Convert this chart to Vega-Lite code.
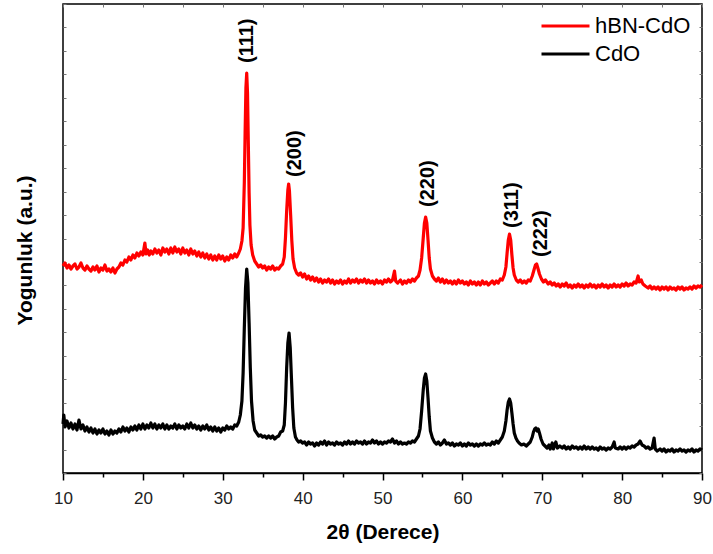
{
  "$schema": "https://vega.github.io/schema/vega-lite/v6.json",
  "width": 639,
  "height": 469,
  "autosize": {"type": "none"},
  "padding": {"left": 63, "top": 4, "right": 11, "bottom": 81},
  "background": "white",
  "config": {
    "view": {"stroke": "black", "strokeWidth": 1.5},
    "font": "Liberation Sans"
  },
  "datasets": {
    "hbn": [
{"theta":10.0,"counts":207},{"theta":10.25,"counts":210},{"theta":10.5,"counts":205},{"theta":10.75,"counts":208},{"theta":11.0,"counts":204},{"theta":11.25,"counts":207},{"theta":11.5,"counts":209},{"theta":11.75,"counts":204},{"theta":12.0,"counts":206},{"theta":12.25,"counts":210},{"theta":12.5,"counts":205},{"theta":12.75,"counts":203},{"theta":13.0,"counts":207},{"theta":13.25,"counts":204},{"theta":13.5,"counts":202},{"theta":13.75,"counts":206},{"theta":14.0,"counts":203},{"theta":14.25,"counts":207},{"theta":14.5,"counts":201},{"theta":14.75,"counts":205},{"theta":15.0,"counts":203},{"theta":15.25,"counts":208},{"theta":15.5,"counts":202},{"theta":15.75,"counts":204},{"theta":16.0,"counts":201},{"theta":16.25,"counts":205},{"theta":16.5,"counts":200},{"theta":16.75,"counts":204},{"theta":17.0,"counts":206},{"theta":17.25,"counts":210},{"theta":17.5,"counts":208},{"theta":17.75,"counts":213},{"theta":18.0,"counts":211},{"theta":18.25,"counts":216},{"theta":18.5,"counts":213},{"theta":18.75,"counts":218},{"theta":19.0,"counts":215},{"theta":19.25,"counts":220},{"theta":19.5,"counts":217},{"theta":19.75,"counts":221},{"theta":20.0,"counts":218},{"theta":20.25,"counts":230},{"theta":20.4,"counts":219},{"theta":20.6,"counts":223},{"theta":20.8,"counts":218},{"theta":21.0,"counts":222},{"theta":21.25,"counts":219},{"theta":21.5,"counts":224},{"theta":21.75,"counts":220},{"theta":22.0,"counts":223},{"theta":22.25,"counts":218},{"theta":22.5,"counts":225},{"theta":22.75,"counts":221},{"theta":23.0,"counts":224},{"theta":23.25,"counts":219},{"theta":23.5,"counts":225},{"theta":23.75,"counts":220},{"theta":24.0,"counts":226},{"theta":24.25,"counts":221},{"theta":24.5,"counts":224},{"theta":24.75,"counts":219},{"theta":25.0,"counts":225},{"theta":25.25,"counts":220},{"theta":25.5,"counts":223},{"theta":25.75,"counts":218},{"theta":26.0,"counts":224},{"theta":26.25,"counts":219},{"theta":26.5,"counts":222},{"theta":26.75,"counts":217},{"theta":27.0,"counts":221},{"theta":27.25,"counts":216},{"theta":27.5,"counts":220},{"theta":27.75,"counts":215},{"theta":28.0,"counts":219},{"theta":28.25,"counts":214},{"theta":28.5,"counts":218},{"theta":28.75,"counts":213},{"theta":29.0,"counts":217},{"theta":29.25,"counts":213},{"theta":29.5,"counts":218},{"theta":29.75,"counts":214},{"theta":30.0,"counts":217},{"theta":30.25,"counts":212},{"theta":30.5,"counts":216},{"theta":30.75,"counts":213},{"theta":31.0,"counts":218},{"theta":31.25,"counts":215},{"theta":31.5,"counts":219},{"theta":31.75,"counts":216},{"theta":32.0,"counts":220},{"theta":32.2,"counts":224},{"theta":32.4,"counts":232},{"theta":32.55,"counts":245},{"theta":32.7,"counts":290},{"theta":32.8,"counts":340},{"theta":32.9,"counts":385},{"theta":33.0,"counts":400},{"theta":33.1,"counts":380},{"theta":33.2,"counts":330},{"theta":33.3,"counts":280},{"theta":33.4,"counts":248},{"theta":33.55,"counts":228},{"theta":33.75,"counts":218},{"theta":34.0,"counts":212},{"theta":34.25,"counts":209},{"theta":34.5,"counts":206},{"theta":34.75,"counts":208},{"theta":35.0,"counts":205},{"theta":35.25,"counts":207},{"theta":35.5,"counts":203},{"theta":35.75,"counts":206},{"theta":36.0,"counts":204},{"theta":36.25,"counts":207},{"theta":36.5,"counts":203},{"theta":36.75,"counts":205},{"theta":37.0,"counts":204},{"theta":37.25,"counts":207},{"theta":37.5,"counts":209},{"theta":37.7,"counts":216},{"theta":37.85,"counts":235},{"theta":38.0,"counts":262},{"theta":38.15,"counts":283},{"theta":38.25,"counts":289},{"theta":38.35,"counts":282},{"theta":38.5,"counts":258},{"theta":38.65,"counts":232},{"theta":38.8,"counts":214},{"theta":39.0,"counts":205},{"theta":39.25,"counts":200},{"theta":39.5,"counts":198},{"theta":39.75,"counts":200},{"theta":40.0,"counts":196},{"theta":40.25,"counts":199},{"theta":40.5,"counts":194},{"theta":40.75,"counts":197},{"theta":41.0,"counts":193},{"theta":41.25,"counts":196},{"theta":41.5,"counts":192},{"theta":41.75,"counts":195},{"theta":42.0,"counts":191},{"theta":42.25,"counts":194},{"theta":42.5,"counts":190},{"theta":42.75,"counts":193},{"theta":43.0,"counts":191},{"theta":43.25,"counts":194},{"theta":43.5,"counts":190},{"theta":43.75,"counts":193},{"theta":44.0,"counts":189},{"theta":44.25,"counts":192},{"theta":44.5,"counts":190},{"theta":44.75,"counts":193},{"theta":45.0,"counts":189},{"theta":45.25,"counts":192},{"theta":45.5,"counts":190},{"theta":45.75,"counts":194},{"theta":46.0,"counts":190},{"theta":46.25,"counts":193},{"theta":46.5,"counts":191},{"theta":46.75,"counts":194},{"theta":47.0,"counts":190},{"theta":47.25,"counts":193},{"theta":47.5,"counts":191},{"theta":47.75,"counts":194},{"theta":48.0,"counts":190},{"theta":48.25,"counts":193},{"theta":48.5,"counts":190},{"theta":48.75,"counts":192},{"theta":49.0,"counts":189},{"theta":49.25,"counts":193},{"theta":49.5,"counts":190},{"theta":49.75,"counts":192},{"theta":50.0,"counts":189},{"theta":50.25,"counts":193},{"theta":50.5,"counts":191},{"theta":50.75,"counts":194},{"theta":51.0,"counts":191},{"theta":51.25,"counts":193},{"theta":51.5,"counts":202},{"theta":51.65,"counts":192},{"theta":51.9,"counts":190},{"theta":52.25,"counts":193},{"theta":52.5,"counts":189},{"theta":52.75,"counts":192},{"theta":53.0,"counts":190},{"theta":53.25,"counts":193},{"theta":53.5,"counts":191},{"theta":53.75,"counts":194},{"theta":54.0,"counts":192},{"theta":54.25,"counts":195},{"theta":54.5,"counts":197},{"theta":54.7,"counts":203},{"theta":54.9,"counts":215},{"theta":55.1,"counts":235},{"theta":55.25,"counts":250},{"theta":55.4,"counts":256},{"theta":55.55,"counts":250},{"theta":55.7,"counts":233},{"theta":55.85,"counts":215},{"theta":56.0,"counts":204},{"theta":56.25,"counts":197},{"theta":56.5,"counts":194},{"theta":56.75,"counts":192},{"theta":57.0,"counts":195},{"theta":57.25,"counts":191},{"theta":57.5,"counts":194},{"theta":57.75,"counts":190},{"theta":58.0,"counts":193},{"theta":58.25,"counts":190},{"theta":58.5,"counts":192},{"theta":58.75,"counts":189},{"theta":59.0,"counts":192},{"theta":59.25,"counts":189},{"theta":59.5,"counts":193},{"theta":59.75,"counts":190},{"theta":60.0,"counts":192},{"theta":60.25,"counts":189},{"theta":60.5,"counts":191},{"theta":60.75,"counts":188},{"theta":61.0,"counts":192},{"theta":61.25,"counts":189},{"theta":61.5,"counts":191},{"theta":61.75,"counts":188},{"theta":62.0,"counts":191},{"theta":62.25,"counts":188},{"theta":62.5,"counts":192},{"theta":62.75,"counts":189},{"theta":63.0,"counts":191},{"theta":63.25,"counts":188},{"theta":63.5,"counts":190},{"theta":63.75,"counts":192},{"theta":64.0,"counts":189},{"theta":64.25,"counts":192},{"theta":64.5,"counts":190},{"theta":64.75,"counts":194},{"theta":65.0,"counts":193},{"theta":65.25,"counts":198},{"theta":65.45,"counts":206},{"theta":65.6,"counts":220},{"theta":65.75,"counts":233},{"theta":65.9,"counts":239},{"theta":66.05,"counts":233},{"theta":66.2,"counts":218},{"theta":66.35,"counts":205},{"theta":66.5,"counts":198},{"theta":66.75,"counts":193},{"theta":67.0,"counts":191},{"theta":67.25,"counts":193},{"theta":67.5,"counts":190},{"theta":67.75,"counts":192},{"theta":68.0,"counts":190},{"theta":68.25,"counts":193},{"theta":68.5,"counts":192},{"theta":68.75,"counts":197},{"theta":69.0,"counts":204},{"theta":69.15,"counts":208},{"theta":69.3,"counts":209},{"theta":69.45,"counts":205},{"theta":69.65,"counts":199},{"theta":69.9,"counts":194},{"theta":70.15,"counts":191},{"theta":70.4,"counts":193},{"theta":70.75,"counts":189},{"theta":71.0,"counts":191},{"theta":71.25,"counts":188},{"theta":71.5,"counts":190},{"theta":71.75,"counts":187},{"theta":72.0,"counts":189},{"theta":72.25,"counts":186},{"theta":72.5,"counts":189},{"theta":72.75,"counts":187},{"theta":73.0,"counts":190},{"theta":73.25,"counts":186},{"theta":73.5,"counts":188},{"theta":73.75,"counts":185},{"theta":74.0,"counts":188},{"theta":74.25,"counts":186},{"theta":74.5,"counts":189},{"theta":74.75,"counts":186},{"theta":75.0,"counts":188},{"theta":75.25,"counts":185},{"theta":75.5,"counts":188},{"theta":75.75,"counts":186},{"theta":76.0,"counts":189},{"theta":76.25,"counts":186},{"theta":76.5,"counts":188},{"theta":76.75,"counts":185},{"theta":77.0,"counts":188},{"theta":77.25,"counts":186},{"theta":77.5,"counts":189},{"theta":77.75,"counts":186},{"theta":78.0,"counts":188},{"theta":78.25,"counts":185},{"theta":78.5,"counts":188},{"theta":78.75,"counts":186},{"theta":79.0,"counts":189},{"theta":79.25,"counts":186},{"theta":79.5,"counts":188},{"theta":79.75,"counts":186},{"theta":80.0,"counts":189},{"theta":80.25,"counts":187},{"theta":80.5,"counts":190},{"theta":80.75,"counts":187},{"theta":81.0,"counts":189},{"theta":81.25,"counts":188},{"theta":81.5,"counts":191},{"theta":81.75,"counts":190},{"theta":82.0,"counts":197},{"theta":82.15,"counts":191},{"theta":82.4,"counts":193},{"theta":82.6,"counts":189},{"theta":82.9,"counts":187},{"theta":83.25,"counts":185},{"theta":83.5,"counts":187},{"theta":83.75,"counts":184},{"theta":84.0,"counts":186},{"theta":84.25,"counts":184},{"theta":84.5,"counts":186},{"theta":84.75,"counts":183},{"theta":85.0,"counts":186},{"theta":85.25,"counts":184},{"theta":85.5,"counts":186},{"theta":85.75,"counts":183},{"theta":86.0,"counts":186},{"theta":86.25,"counts":184},{"theta":86.5,"counts":185},{"theta":86.75,"counts":183},{"theta":87.0,"counts":186},{"theta":87.25,"counts":184},{"theta":87.5,"counts":186},{"theta":87.75,"counts":183},{"theta":88.0,"counts":185},{"theta":88.25,"counts":184},{"theta":88.5,"counts":186},{"theta":88.75,"counts":184},{"theta":89.0,"counts":187},{"theta":89.25,"counts":185},{"theta":89.5,"counts":187},{"theta":89.75,"counts":186},{"theta":90.0,"counts":188}
    ],
    "cdo": [
{"theta":10.0,"counts":49},{"theta":10.1,"counts":58},{"theta":10.25,"counts":46},{"theta":10.5,"counts":52},{"theta":10.75,"counts":45},{"theta":11.0,"counts":50},{"theta":11.25,"counts":44},{"theta":11.5,"counts":49},{"theta":11.75,"counts":43},{"theta":12.0,"counts":53},{"theta":12.25,"counts":44},{"theta":12.5,"counts":48},{"theta":12.75,"counts":42},{"theta":13.0,"counts":46},{"theta":13.25,"counts":41},{"theta":13.5,"counts":45},{"theta":13.75,"counts":40},{"theta":14.0,"counts":44},{"theta":14.25,"counts":39},{"theta":14.5,"counts":43},{"theta":14.75,"counts":40},{"theta":15.0,"counts":44},{"theta":15.25,"counts":39},{"theta":15.5,"counts":42},{"theta":15.75,"counts":38},{"theta":16.0,"counts":43},{"theta":16.25,"counts":39},{"theta":16.5,"counts":42},{"theta":16.75,"counts":40},{"theta":17.0,"counts":44},{"theta":17.25,"counts":41},{"theta":17.5,"counts":46},{"theta":17.75,"counts":42},{"theta":18.0,"counts":45},{"theta":18.25,"counts":41},{"theta":18.5,"counts":46},{"theta":18.75,"counts":43},{"theta":19.0,"counts":47},{"theta":19.25,"counts":43},{"theta":19.5,"counts":48},{"theta":19.75,"counts":44},{"theta":20.0,"counts":49},{"theta":20.25,"counts":44},{"theta":20.5,"counts":48},{"theta":20.75,"counts":45},{"theta":21.0,"counts":50},{"theta":21.25,"counts":45},{"theta":21.5,"counts":49},{"theta":21.75,"counts":44},{"theta":22.0,"counts":48},{"theta":22.25,"counts":45},{"theta":22.5,"counts":49},{"theta":22.75,"counts":44},{"theta":23.0,"counts":48},{"theta":23.25,"counts":44},{"theta":23.5,"counts":47},{"theta":23.75,"counts":45},{"theta":24.0,"counts":49},{"theta":24.25,"counts":44},{"theta":24.5,"counts":48},{"theta":24.75,"counts":45},{"theta":25.0,"counts":47},{"theta":25.25,"counts":44},{"theta":25.5,"counts":49},{"theta":25.75,"counts":45},{"theta":26.0,"counts":50},{"theta":26.25,"counts":45},{"theta":26.5,"counts":48},{"theta":26.75,"counts":44},{"theta":27.0,"counts":47},{"theta":27.25,"counts":43},{"theta":27.5,"counts":47},{"theta":27.75,"counts":44},{"theta":28.0,"counts":48},{"theta":28.25,"counts":43},{"theta":28.5,"counts":46},{"theta":28.75,"counts":42},{"theta":29.0,"counts":46},{"theta":29.25,"counts":42},{"theta":29.5,"counts":45},{"theta":29.75,"counts":41},{"theta":30.0,"counts":45},{"theta":30.25,"counts":43},{"theta":30.5,"counts":47},{"theta":30.75,"counts":44},{"theta":31.0,"counts":46},{"theta":31.25,"counts":44},{"theta":31.5,"counts":48},{"theta":31.75,"counts":47},{"theta":32.0,"counts":51},{"theta":32.2,"counts":58},{"theta":32.4,"counts":72},{"theta":32.55,"counts":100},{"theta":32.7,"counts":145},{"theta":32.85,"counts":185},{"theta":33.0,"counts":204},{"theta":33.15,"counts":190},{"theta":33.3,"counts":150},{"theta":33.45,"counts":105},{"theta":33.6,"counts":72},{"theta":33.8,"counts":52},{"theta":34.0,"counts":43},{"theta":34.25,"counts":40},{"theta":34.5,"counts":37},{"theta":34.75,"counts":38},{"theta":35.0,"counts":36},{"theta":35.25,"counts":37},{"theta":35.5,"counts":35},{"theta":35.75,"counts":37},{"theta":36.0,"counts":35},{"theta":36.25,"counts":37},{"theta":36.5,"counts":34},{"theta":36.75,"counts":36},{"theta":37.0,"counts":37},{"theta":37.25,"counts":41},{"theta":37.5,"counts":42},{"theta":37.7,"counts":48},{"theta":37.85,"counts":70},{"theta":38.0,"counts":105},{"theta":38.15,"counts":130},{"theta":38.3,"counts":140},{"theta":38.45,"counts":125},{"theta":38.6,"counts":95},{"theta":38.75,"counts":65},{"theta":38.9,"counts":45},{"theta":39.1,"counts":36},{"theta":39.3,"counts":33},{"theta":39.5,"counts":31},{"theta":39.75,"counts":32},{"theta":40.0,"counts":30},{"theta":40.25,"counts":31},{"theta":40.5,"counts":28},{"theta":40.75,"counts":31},{"theta":41.0,"counts":29},{"theta":41.25,"counts":30},{"theta":41.5,"counts":27},{"theta":41.75,"counts":30},{"theta":42.0,"counts":28},{"theta":42.25,"counts":31},{"theta":42.5,"counts":29},{"theta":42.75,"counts":32},{"theta":43.0,"counts":28},{"theta":43.25,"counts":31},{"theta":43.5,"counts":29},{"theta":43.75,"counts":30},{"theta":44.0,"counts":28},{"theta":44.25,"counts":31},{"theta":44.5,"counts":29},{"theta":44.75,"counts":30},{"theta":45.0,"counts":28},{"theta":45.25,"counts":31},{"theta":45.5,"counts":29},{"theta":45.75,"counts":32},{"theta":46.0,"counts":29},{"theta":46.25,"counts":31},{"theta":46.5,"counts":29},{"theta":46.75,"counts":32},{"theta":47.0,"counts":30},{"theta":47.25,"counts":31},{"theta":47.5,"counts":29},{"theta":47.75,"counts":32},{"theta":48.0,"counts":29},{"theta":48.25,"counts":31},{"theta":48.5,"counts":30},{"theta":48.75,"counts":33},{"theta":49.0,"counts":30},{"theta":49.25,"counts":32},{"theta":49.5,"counts":29},{"theta":49.75,"counts":31},{"theta":50.0,"counts":29},{"theta":50.25,"counts":31},{"theta":50.5,"counts":30},{"theta":50.75,"counts":32},{"theta":51.0,"counts":31},{"theta":51.25,"counts":34},{"theta":51.5,"counts":30},{"theta":51.75,"counts":32},{"theta":52.0,"counts":29},{"theta":52.25,"counts":31},{"theta":52.5,"counts":29},{"theta":52.75,"counts":30},{"theta":53.0,"counts":29},{"theta":53.25,"counts":31},{"theta":53.5,"counts":30},{"theta":53.75,"counts":32},{"theta":54.0,"counts":31},{"theta":54.25,"counts":34},{"theta":54.5,"counts":37},{"theta":54.7,"counts":44},{"theta":54.9,"counts":62},{"theta":55.1,"counts":83},{"theta":55.25,"counts":95},{"theta":55.4,"counts":99},{"theta":55.55,"counts":92},{"theta":55.7,"counts":75},{"theta":55.85,"counts":56},{"theta":56.0,"counts":42},{"theta":56.25,"counts":35},{"theta":56.5,"counts":31},{"theta":56.75,"counts":29},{"theta":57.0,"counts":31},{"theta":57.25,"counts":28},{"theta":57.5,"counts":30},{"theta":57.75,"counts":33},{"theta":58.0,"counts":29},{"theta":58.25,"counts":30},{"theta":58.5,"counts":28},{"theta":58.75,"counts":30},{"theta":59.0,"counts":27},{"theta":59.25,"counts":29},{"theta":59.5,"counts":28},{"theta":59.75,"counts":30},{"theta":60.0,"counts":27},{"theta":60.25,"counts":29},{"theta":60.5,"counts":27},{"theta":60.75,"counts":30},{"theta":61.0,"counts":28},{"theta":61.25,"counts":29},{"theta":61.5,"counts":27},{"theta":61.75,"counts":29},{"theta":62.0,"counts":27},{"theta":62.25,"counts":29},{"theta":62.5,"counts":28},{"theta":62.75,"counts":30},{"theta":63.0,"counts":28},{"theta":63.25,"counts":29},{"theta":63.5,"counts":28},{"theta":63.75,"counts":31},{"theta":64.0,"counts":29},{"theta":64.25,"counts":32},{"theta":64.5,"counts":30},{"theta":64.75,"counts":33},{"theta":65.0,"counts":36},{"theta":65.25,"counts":42},{"theta":65.45,"counts":52},{"theta":65.6,"counts":63},{"theta":65.75,"counts":71},{"theta":65.9,"counts":74},{"theta":66.05,"counts":70},{"theta":66.2,"counts":60},{"theta":66.35,"counts":49},{"theta":66.5,"counts":40},{"theta":66.7,"counts":35},{"theta":66.9,"counts":32},{"theta":67.1,"counts":30},{"theta":67.4,"counts":28},{"theta":67.7,"counts":29},{"theta":68.0,"counts":27},{"theta":68.25,"counts":29},{"theta":68.5,"counts":31},{"theta":68.75,"counts":36},{"theta":68.9,"counts":41},{"theta":69.05,"counts":44},{"theta":69.2,"counts":45},{"theta":69.35,"counts":42},{"theta":69.5,"counts":44},{"theta":69.65,"counts":40},{"theta":69.85,"counts":34},{"theta":70.1,"counts":29},{"theta":70.35,"counts":27},{"theta":70.6,"counts":25},{"theta":70.85,"counts":28},{"theta":71.0,"counts":24},{"theta":71.25,"counts":30},{"theta":71.4,"counts":24},{"theta":71.7,"counts":31},{"theta":71.9,"counts":25},{"theta":72.2,"counts":27},{"theta":72.5,"counts":25},{"theta":72.75,"counts":27},{"theta":73.0,"counts":24},{"theta":73.25,"counts":26},{"theta":73.5,"counts":24},{"theta":73.75,"counts":27},{"theta":74.0,"counts":25},{"theta":74.25,"counts":26},{"theta":74.5,"counts":24},{"theta":74.75,"counts":26},{"theta":75.0,"counts":24},{"theta":75.25,"counts":27},{"theta":75.5,"counts":24},{"theta":75.75,"counts":26},{"theta":76.0,"counts":24},{"theta":76.25,"counts":26},{"theta":76.5,"counts":24},{"theta":76.75,"counts":25},{"theta":77.0,"counts":23},{"theta":77.25,"counts":26},{"theta":77.5,"counts":24},{"theta":77.75,"counts":25},{"theta":78.0,"counts":23},{"theta":78.25,"counts":25},{"theta":78.5,"counts":24},{"theta":78.75,"counts":26},{"theta":79.0,"counts":31},{"theta":79.15,"counts":25},{"theta":79.5,"counts":24},{"theta":79.75,"counts":26},{"theta":80.0,"counts":24},{"theta":80.25,"counts":26},{"theta":80.5,"counts":24},{"theta":80.75,"counts":26},{"theta":81.0,"counts":25},{"theta":81.25,"counts":27},{"theta":81.5,"counts":26},{"theta":81.75,"counts":28},{"theta":82.0,"counts":29},{"theta":82.25,"counts":32},{"theta":82.5,"counts":28},{"theta":82.75,"counts":27},{"theta":83.0,"counts":25},{"theta":83.25,"counts":26},{"theta":83.5,"counts":24},{"theta":83.75,"counts":25},{"theta":84.0,"counts":35},{"theta":84.15,"counts":24},{"theta":84.4,"counts":22},{"theta":84.75,"counts":24},{"theta":85.0,"counts":22},{"theta":85.25,"counts":24},{"theta":85.5,"counts":21},{"theta":85.75,"counts":23},{"theta":86.0,"counts":22},{"theta":86.25,"counts":24},{"theta":86.5,"counts":21},{"theta":86.75,"counts":23},{"theta":87.0,"counts":22},{"theta":87.25,"counts":24},{"theta":87.5,"counts":22},{"theta":87.75,"counts":23},{"theta":88.0,"counts":21},{"theta":88.25,"counts":23},{"theta":88.5,"counts":22},{"theta":88.75,"counts":24},{"theta":89.0,"counts":21},{"theta":89.25,"counts":23},{"theta":89.5,"counts":22},{"theta":89.75,"counts":24},{"theta":90.0,"counts":23}
    ],
    "peaks": [
      {"theta": 33.0, "counts": 410, "label": "(111)"},
      {"theta": 39.1, "counts": 296, "label": "(200)"},
      {"theta": 55.75, "counts": 266, "label": "(220)"},
      {"theta": 66.25, "counts": 245, "label": "(311)"},
      {"theta": 69.9, "counts": 216, "label": "(222)"}
    ]
  },
  "layer": [
    {
      "data": {"name": "hbn"},
      "mark": {"type": "line", "strokeWidth": 3.2, "interpolate": "linear", "strokeJoin": "round"},
      "encoding": {
        "x": {
          "field": "theta", "type": "quantitative",
          "scale": {"domain": [10, 90], "nice": false, "zero": false},
          "axis": {
            "orient": "bottom",
            "values": [10, 15, 20, 25, 30, 35, 40, 45, 50, 55, 60, 65, 70, 75, 80, 85, 90],
            "labelExpr": "datum.value % 10 === 0 ? datum.label : ''",
            "tickSize": {"condition": {"test": "datum.value % 10 === 0", "value": 7}, "value": 4},
            "tickColor": "black", "tickWidth": 1.5,
            "domainColor": "black", "domainWidth": 1.5,
            "grid": false,
            "labelFont": "Liberation Sans", "labelFontSize": 17, "labelColor": "#222222",
            "labelPadding": 10, "labelFlush": false,
            "title": "2θ (Derece)",
            "titleFont": "Liberation Sans", "titleFontSize": 21, "titleFontWeight": "bold",
            "titleColor": "black", "titlePadding": 15
          }
        },
        "y": {
          "field": "counts", "type": "quantitative",
          "scale": {"domain": [0, 469], "nice": false, "zero": false},
          "axis": {
            "orient": "left",
            "values": [0, 23.45, 46.9, 70.35, 93.8, 117.25, 140.7, 164.15, 187.6, 211.05, 234.5, 257.95, 281.4, 304.85, 328.3, 351.75, 375.2, 398.65, 422.1, 445.55, 469],
            "labels": false, "domain": false, "grid": false,
            "tickSize": -3, "tickColor": "#777777", "tickWidth": 1,
            "title": "Yogunluk (a.u.)",
            "titleFont": "Liberation Sans", "titleFontSize": 21, "titleFontWeight": "bold",
            "titleColor": "black", "titlePadding": 27, "titleY": 246
          }
        },
        "color": {
          "datum": "hBN-CdO", "type": "nominal",
          "scale": {"domain": ["hBN-CdO", "CdO"], "range": ["#ff0000", "#000000"]},
          "legend": {
            "orient": "none", "legendX": 477, "legendY": 11,
            "title": null, "symbolType": "stroke", "symbolSize": 2304,
            "symbolStrokeWidth": 3, "labelFont": "Liberation Sans",
            "labelFontSize": 22, "labelColor": "black", "labelOffset": 4,
            "clipHeight": 22, "rowPadding": 6, "padding": 0
          }
        }
      }
    },
    {
      "data": {"name": "cdo"},
      "mark": {"type": "line", "strokeWidth": 3.2, "interpolate": "linear", "strokeJoin": "round"},
      "encoding": {
        "x": {
          "field": "theta", "type": "quantitative",
          "axis": {
            "orient": "top",
            "values": [10, 15, 20, 25, 30, 35, 40, 45, 50, 55, 60, 65, 70, 75, 80, 85, 90],
            "labels": false, "domain": false, "grid": false,
            "tickSize": -3, "tickColor": "#777777", "tickWidth": 1,
            "title": null
          }
        },
        "y": {
          "field": "counts", "type": "quantitative",
          "axis": {
            "orient": "right",
            "values": [0, 23.45, 46.9, 70.35, 93.8, 117.25, 140.7, 164.15, 187.6, 211.05, 234.5, 257.95, 281.4, 304.85, 328.3, 351.75, 375.2, 398.65, 422.1, 445.55, 469],
            "labels": false, "domain": false, "grid": false,
            "tickSize": -3, "tickColor": "#777777", "tickWidth": 1,
            "title": null
          }
        },
        "color": {"datum": "CdO", "type": "nominal"}
      }
    },
    {
      "data": {"name": "peaks"},
      "mark": {"type": "text", "angle": 270, "align": "left", "baseline": "middle", "font": "Liberation Sans", "fontWeight": "bold", "fontSize": 20, "color": "black"},
      "encoding": {
        "x": {"field": "theta", "type": "quantitative", "axis": null},
        "y": {"field": "counts", "type": "quantitative", "axis": null},
        "text": {"field": "label"}
      }
    }
  ],
  "resolve": {"axis": {"x": "independent", "y": "independent"}}
}
